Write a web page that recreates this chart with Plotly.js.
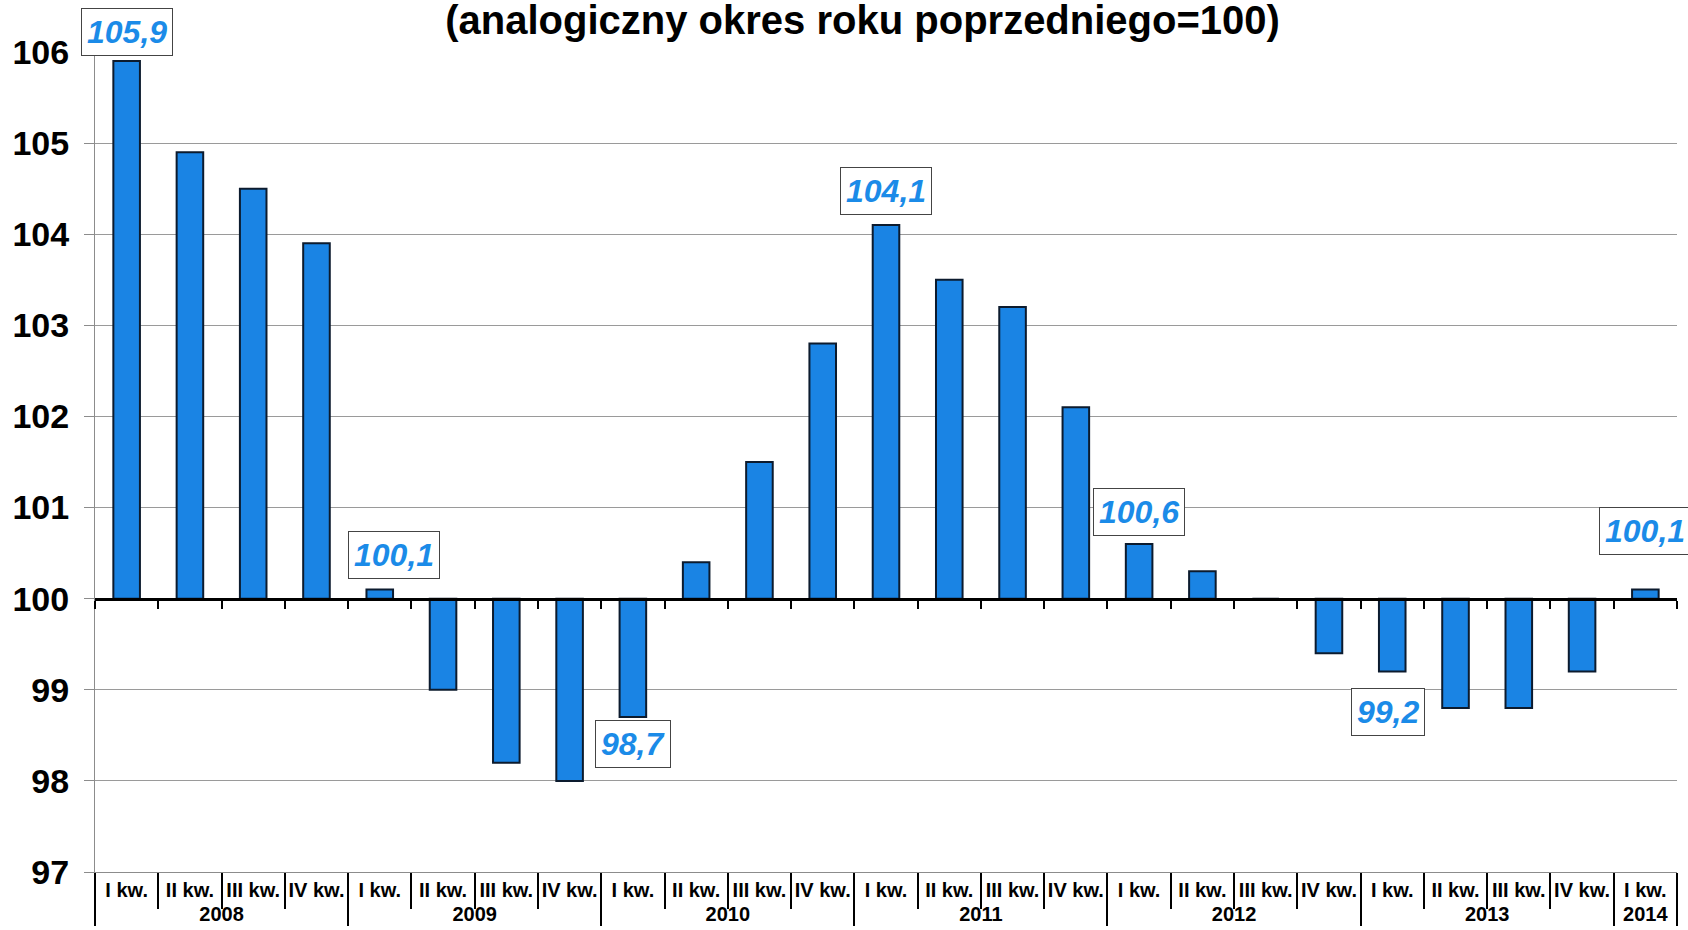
<!DOCTYPE html>
<html>
<head>
<meta charset="utf-8">
<script src="https://cdn.plot.ly/plotly-3.0.1.min.js"></script>
<style>
  html, body { margin: 0; padding: 0; background: #ffffff; }
  #chart { width: 1688px; height: 930px; }
</style>
</head>
<body>
<div id="chart"></div>
<script>
// ---- data ----
const years = ['2008','2008','2008','2008','2009','2009','2009','2009','2010','2010','2010','2010',
               '2011','2011','2011','2011','2012','2012','2012','2012','2013','2013','2013','2013','2014'];
const quarters = ['I kw.','II kw.','III kw.','IV kw.','I kw.','II kw.','III kw.','IV kw.','I kw.','II kw.','III kw.','IV kw.',
                  'I kw.','II kw.','III kw.','IV kw.','I kw.','II kw.','III kw.','IV kw.','I kw.','II kw.','III kw.','IV kw.','I kw.'];
const values = [105.9, 104.9, 104.5, 103.9, 100.1, 99.0, 98.2, 98.0, 98.7, 100.4, 101.5, 102.8,
                104.1, 103.5, 103.2, 102.1, 100.6, 100.3, 100.0, 99.4, 99.2, 98.8, 98.8, 99.2, 100.1];
const labelledIdx = [0, 4, 8, 12, 16, 20, 24];
const baseValue = 100;
const titleText = '(analogiczny okres roku poprzedniego=100)';

// ---- label offsets (pixels) ----
const labelShift = {0: [0, 29], 4: [14, 35], 8: [0, -27], 12: [0, 34], 16: [0, 32], 20: [-4, -40], 24: [0, 59]};

const flat = years.map((y, i) => y + ' ' + quarters[i]);
const FONT = 'Liberation Sans, Arial, Helvetica, sans-serif';

const bars = {
  type: 'bar',
  x: [years, quarters],
  y: values.map(v => v - baseValue),
  base: baseValue,
  marker: { color: '#1a84e4', line: { color: '#0c1b2e', width: 2 } },
  hoverinfo: 'skip',
  showlegend: false
};

const ghost = {
  type: 'scatter',
  mode: 'markers',
  x: flat,
  y: values,
  xaxis: 'x2',
  yaxis: 'y',
  marker: { opacity: 0, size: 1 },
  hoverinfo: 'skip',
  showlegend: false
};

const annotations = labelledIdx.map(i => ({
  xref: 'x2', yref: 'y',
  x: i, y: values[i],
  text: values[i].toFixed(1).replace('.', ','),
  showarrow: false,
  xanchor: 'center', yanchor: 'middle',
  xshift: labelShift[i][0], yshift: labelShift[i][1],
  font: { family: FONT, size: 32, color: '#1b8be8', weight: 'bold', style: 'italic' },
  bgcolor: '#ffffff',
  bordercolor: '#444444',
  borderwidth: 1,
  borderpad: 5
}));

const layout = {
  width: 1688, height: 930,
  margin: { l: 95, r: 11, t: 52, b: 58 },
  paper_bgcolor: '#ffffff',
  plot_bgcolor: '#ffffff',
  bargap: 0.58,
  title: {
    text: titleText,
    font: { family: FONT, size: 40, color: '#000000', weight: 'bold' },
    x: 0.511, xanchor: 'center',
    yref: 'container', y: 1 - 6 / 930, yanchor: 'top',
    pad: { t: 0, b: 0 }
  },
  xaxis: {
    type: 'multicategory',
    tickangle: 0,
    showline: true, linecolor: '#8c8c8c', linewidth: 1,
    ticks: 'outside', ticklen: 36, tickwidth: 2, tickcolor: '#000000',
    tickson: 'boundaries',
    showdividers: true, dividercolor: '#000000', dividerwidth: 2,
    tickfont: { family: FONT, size: 20, color: '#000000', weight: 'bold' },
    showgrid: false, zeroline: false, fixedrange: true
  },
  xaxis2: {
    type: 'category',
    overlaying: 'x',
    anchor: 'free',
    position: (baseValue - 97) / (106 - 97),
    side: 'bottom',
    categoryorder: 'array', categoryarray: flat,
    range: [-0.5, flat.length - 0.5],
    showline: true, linecolor: '#000000', linewidth: 3,
    ticks: 'outside', ticklen: 8, tickwidth: 2, tickcolor: '#000000',
    tickson: 'boundaries',
    showticklabels: false, showgrid: false, zeroline: false, fixedrange: true
  },
  yaxis: {
    range: [97, 106],
    dtick: 1,
    showline: true, linecolor: '#8c8c8c', linewidth: 1,
    ticks: 'outside', ticklen: 10, tickcolor: '#8c8c8c',
    ticklabelstandoff: 8,
    showgrid: true, gridcolor: '#9a9a9a', gridwidth: 1,
    zeroline: false,
    tickfont: { family: FONT, size: 34, color: '#000000', weight: 'bold' },
    fixedrange: true
  },
  annotations: annotations
};

Plotly.newPlot('chart', [bars, ghost], layout, { displayModeBar: false, staticPlot: true });
</script>
</body>
</html>
